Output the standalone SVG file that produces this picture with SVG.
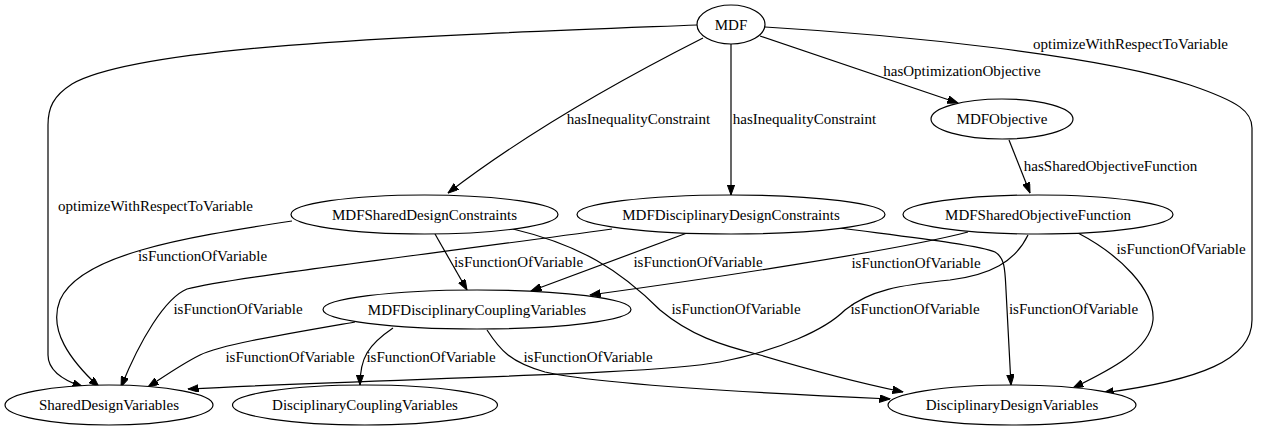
<svg xmlns="http://www.w3.org/2000/svg" width="1262" height="428" viewBox="0 0 1262 428">
<style>
.n ellipse{fill:#fff;stroke:#000;stroke-width:1.2}
text{font-family:"Liberation Serif","Times New Roman",serif;font-size:15px;fill:#000;text-anchor:middle}
.e path{fill:none;stroke:#000;stroke-width:1.2;marker-end:url(#ah)}
</style>
<defs>
<marker id="ah" markerWidth="11" markerHeight="8" refX="10.5" refY="3.8" orient="auto" markerUnits="userSpaceOnUse"><path d="M0,0 L10.5,3.8 L0,7.6 z" fill="#000" stroke="#000" stroke-width="1"/></marker>
</defs>
<rect width="1262" height="428" fill="#fff"/>
<g id="edges" class="e">
<path d="M697,25 C420,36 140,45 72,84 C53,96 48,108 48,125 L48,355 C48,370 62,380 83,387"/>
<path d="M765,27 C900,35 1100,55 1190,85 C1240,102 1252,112 1252,128 L1252,320 C1252,360 1200,380 1103,393"/>
<path d="M703,38 C620,80 530,130 448,193"/>
<path d="M731,44 L731,195"/>
<path d="M760,36 L958,103"/>
<path d="M1009,140 L1030,193"/>
<path d="M292,221 C180,238 80,255 60,300 C48,330 70,360 99,387"/>
<path d="M435,234 L467,290"/>
<path d="M513,229 C580,245 620,270 660,310 C690,335 720,345 760,355 C800,367 860,383 903,392"/>
<path d="M612,229 C400,258 230,278 187,289 C165,298 140,340 121,387"/>
<path d="M687,233 L531,291"/>
<path d="M840,228 C900,236 980,245 995,252 C1005,258 1005,270 1006,290 L1011,385"/>
<path d="M968,232 C900,250 700,280 590,295"/>
<path d="M1028,235 C1015,262 990,275 950,280 C900,285 870,290 845,310 C825,330 780,350 720,362 C650,375 400,378 188,389"/>
<path d="M1078,233 C1120,255 1155,290 1153,320 C1150,350 1110,370 1073,388"/>
<path d="M355,322 C280,335 220,345 200,355 C180,365 162,378 148,387"/>
<path d="M393,328 C368,345 360,358 360,385"/>
<path d="M487,330 C500,350 510,362 545,372 C600,385 800,395 890,399"/>
</g>
<g id="edge-labels">
<text x="155.5" y="211">optimizeWithRespectToVariable</text>
<text x="1130.5" y="49">optimizeWithRespectToVariable</text>
<text x="638.5" y="124">hasInequalityConstraint</text>
<text x="804.5" y="124">hasInequalityConstraint</text>
<text x="962" y="76">hasOptimizationObjective</text>
<text x="1110.5" y="171">hasSharedObjectiveFunction</text>
<text x="202.5" y="261">isFunctionOfVariable</text>
<text x="238" y="314">isFunctionOfVariable</text>
<text x="290" y="362">isFunctionOfVariable</text>
<text x="431" y="362">isFunctionOfVariable</text>
<text x="588" y="362">isFunctionOfVariable</text>
<text x="518.5" y="267">isFunctionOfVariable</text>
<text x="698" y="267">isFunctionOfVariable</text>
<text x="736" y="314">isFunctionOfVariable</text>
<text x="916" y="268">isFunctionOfVariable</text>
<text x="915" y="314">isFunctionOfVariable</text>
<text x="1073.5" y="314">isFunctionOfVariable</text>
<text x="1181" y="254">isFunctionOfVariable</text>
</g>
<g id="MDF" class="n"><ellipse cx="731" cy="24.5" rx="34" ry="19.5"/><text x="731" y="29.5">MDF</text></g>
<g id="MDFObjective" class="n"><ellipse cx="1002" cy="119" rx="71" ry="20"/><text x="1002" y="124">MDFObjective</text></g>
<g id="MDFSharedDesignConstraints" class="n"><ellipse cx="424.5" cy="214.5" rx="133.5" ry="19.5"/><text x="424.5" y="219.5">MDFSharedDesignConstraints</text></g>
<g id="MDFDisciplinaryDesignConstraints" class="n"><ellipse cx="731" cy="214.5" rx="154" ry="19.5"/><text x="731" y="219.5">MDFDisciplinaryDesignConstraints</text></g>
<g id="MDFSharedObjectiveFunction" class="n"><ellipse cx="1038" cy="214.5" rx="135" ry="19.5"/><text x="1038" y="219.5">MDFSharedObjectiveFunction</text></g>
<g id="MDFDisciplinaryCouplingVariables" class="n"><ellipse cx="477" cy="309.5" rx="154" ry="19.5"/><text x="477" y="314.5">MDFDisciplinaryCouplingVariables</text></g>
<g id="SharedDesignVariables" class="n"><ellipse cx="109" cy="405" rx="104" ry="20"/><text x="109" y="410">SharedDesignVariables</text></g>
<g id="DisciplinaryCouplingVariables" class="n"><ellipse cx="365" cy="405" rx="132.5" ry="20"/><text x="365" y="410">DisciplinaryCouplingVariables</text></g>
<g id="DisciplinaryDesignVariables" class="n"><ellipse cx="1012" cy="405" rx="124" ry="20"/><text x="1012" y="410">DisciplinaryDesignVariables</text></g>
</svg>
